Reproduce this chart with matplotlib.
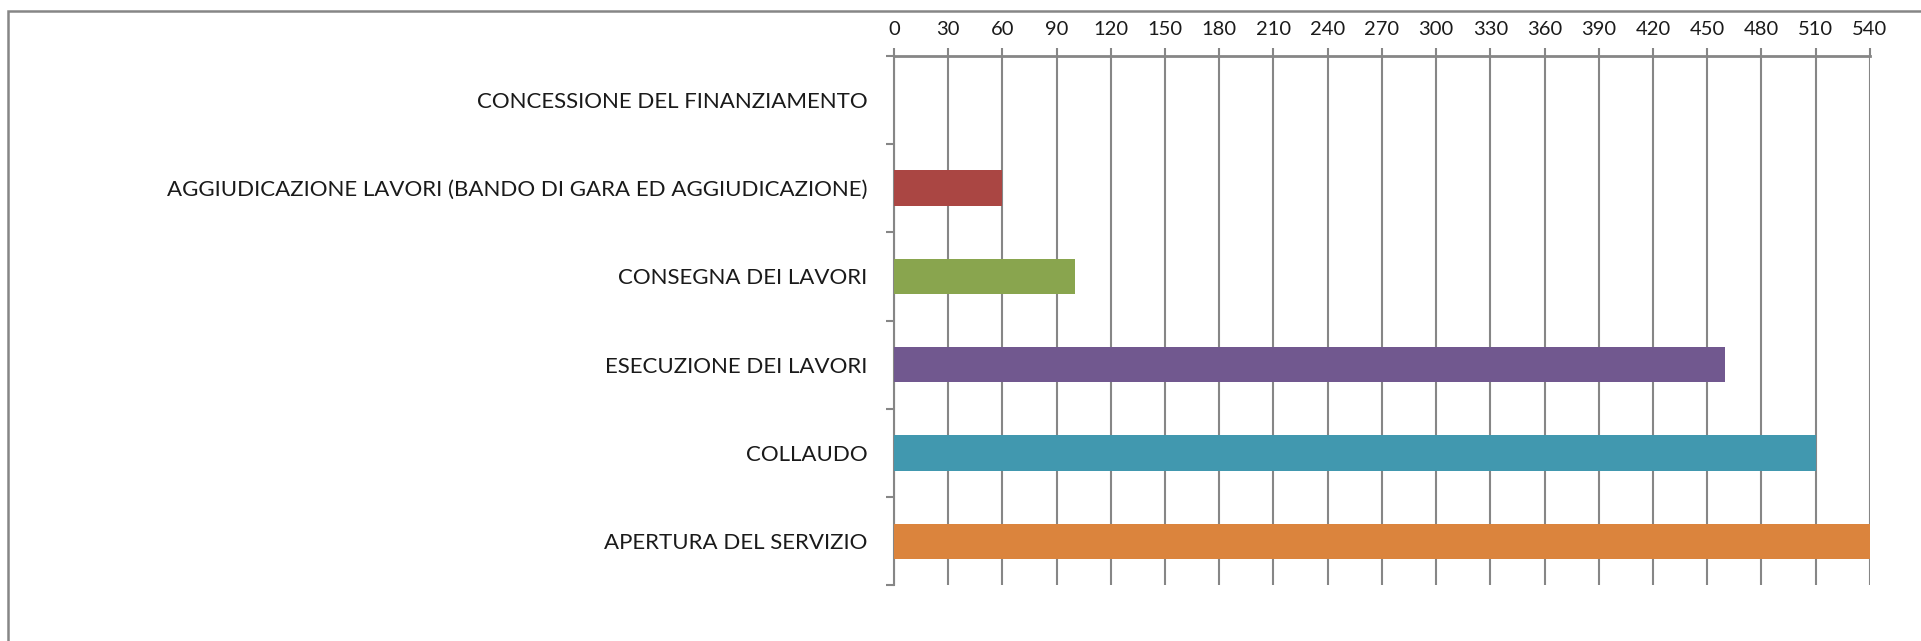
import matplotlib
matplotlib.use("Agg")
import matplotlib.pyplot as plt
from matplotlib.patches import Rectangle

# phases of the project, top to bottom
phases = [
    "CONCESSIONE DEL FINANZIAMENTO",
    "AGGIUDICAZIONE LAVORI (BANDO DI GARA ED AGGIUDICAZIONE)",
    "CONSEGNA DEI LAVORI",
    "ESECUZIONE DEI LAVORI",
    "COLLAUDO",
    "APERTURA DEL SERVIZIO",
]
days = [0, 60, 100, 460, 510, 540]
colors = ["#4572A7", "#AA4643", "#89A54E", "#71588F", "#4198AF", "#DB843D"]
ticks = list(range(0, 541, 30))

plt.rcParams["font.family"] = ["Lato", "DejaVu Sans"]
grey = "#868686"

fig = plt.figure(figsize=(19.21, 6.41), dpi=100)
ax = fig.add_axes([894 / 1921, 1 - 585.3 / 641, (1869.8 - 894) / 1921, (585.3 - 55.7) / 641])

ypos = list(range(len(phases)))
ax.barh(ypos, days, height=0.4, color=colors, zorder=3)

ax.set_ylim(len(phases) - 0.5, -0.5)
ax.set_xlim(0, 540)
ax.set_xticks(ticks)
ax.set_xticklabels([str(t) for t in ticks])
ax.set_yticks([i - 0.5 for i in range(len(phases) + 1)], minor=False)
ax.set_yticklabels([])
ax.set_yticks(ypos, minor=True)
ax.set_yticklabels(phases, minor=True)

ax.xaxis.tick_top()
ax.tick_params(axis="x", which="major", length=5.5, width=1.5, color=grey,
               pad=7, labelsize=14.5, labelcolor="#1a1a1a")
ax.tick_params(axis="y", which="major", length=5.5, width=1.5, color=grey)
ax.tick_params(axis="y", which="minor", length=0, pad=19, labelsize=16,
               labelcolor="#1a1a1a")

ax.grid(axis="x", color=grey, linewidth=1.5, zorder=0)
for side in ["right", "bottom"]:
    ax.spines[side].set_visible(False)
ax.spines["top"].set_color(grey)
ax.spines["top"].set_linewidth(2)
ax.spines["left"].set_color(grey)
ax.spines["left"].set_linewidth(1.5)

# outer chart frame (right and bottom fall outside the image)
fig.patches.append(Rectangle((8 / 1921, -0.1), 1.2, 1.1 - 11 / 641,
                             transform=fig.transFigure, fill=False,
                             edgecolor=grey, linewidth=1.8))

fig.savefig("out.png", dpi=100)
